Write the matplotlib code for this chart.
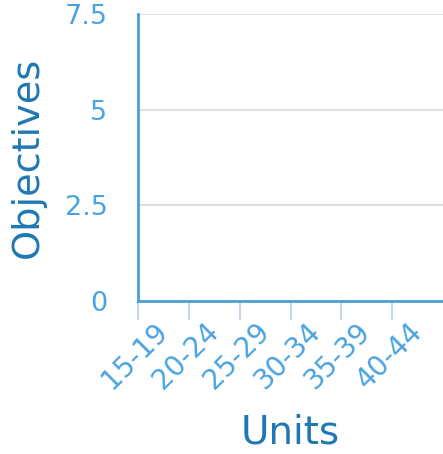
import matplotlib
matplotlib.use("Agg")
import matplotlib.pyplot as plt
import numpy as np

categories = ["15-19", "20-24", "25-29", "30-34", "35-39", "40-44"]
values = []  # empty chart: no data marks
y_ticks = [0, 2.5, 5, 7.5]
y_tick_labels = ["0", "2.5", "5", "7.5"]

tick_color = "#4aa3df"
label_color = "#1f78b4"
spine_color = "#4a9fd5"

fig = plt.figure(figsize=(4.43, 4.54), dpi=100)
ax = fig.add_axes([138/443, 1 - 301/454, (443-138)/443, (301-14)/454])

n = len(categories)
ax.set_xlim(0, n)
ax.set_ylim(0, 7.5)

ax.set_yticks(y_ticks)
ax.set_yticklabels(y_tick_labels)
ax.tick_params(axis="y", length=0, pad=22, labelsize=19.5, labelcolor=tick_color)
ax.yaxis.grid(True, color="#e0e0e0", linewidth=1.5)
ax.set_axisbelow(True)

ax.set_xticks(np.arange(n) + 0.5)
ax.set_xticklabels(categories, rotation=45, ha="right", va="center", rotation_mode="anchor")
ax.tick_params(axis="x", length=0, pad=19, labelsize=20, labelcolor=tick_color)
ax.set_xticks(np.arange(n), minor=True)
ax.tick_params(axis="x", which="minor", length=14, width=1.5, color="#c8d4e8")

for s in ["top", "right"]:
    ax.spines[s].set_visible(False)
for s in ["left", "bottom"]:
    ax.spines[s].set_color(spine_color)
    ax.spines[s].set_linewidth(2)

ax.set_ylabel("Objectives", fontsize=27.5, color=label_color)
ax.yaxis.set_label_coords(-110/305, 0.5)
ax.set_xlabel("Units", fontsize=28, color=label_color)
ax.xaxis.set_label_coords(0.5, -(433-301)/287)
ax.xaxis.label.set_va("center")
ax.yaxis.label.set_va("center")

fig.savefig("out.png", dpi=100)
